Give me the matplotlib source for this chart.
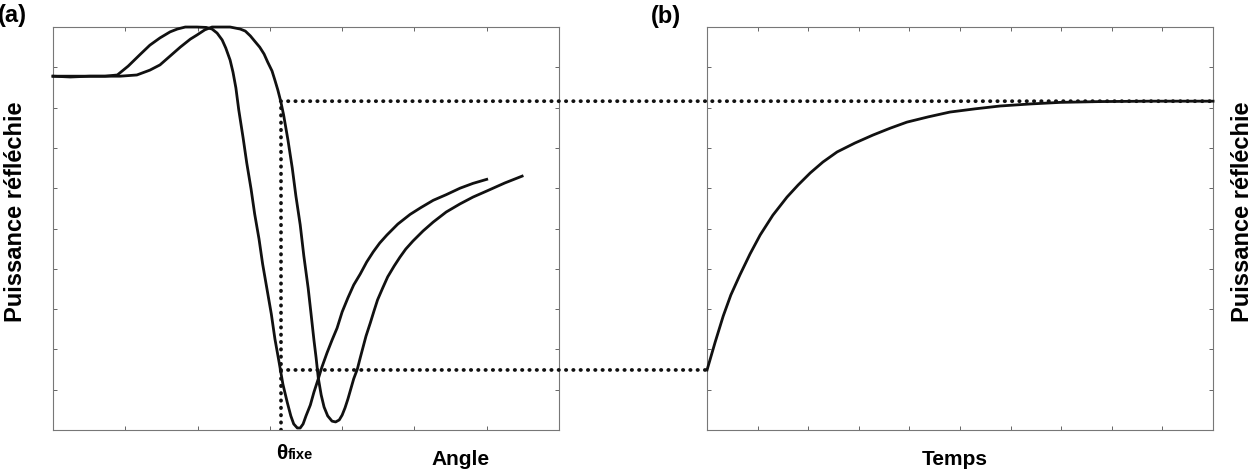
import matplotlib
matplotlib.use('Agg')
import matplotlib.pyplot as plt
from matplotlib.patches import ConnectionPatch

plt.rcParams['font.family'] = ['Liberation Sans', 'DejaVu Sans']
plt.rcParams['font.weight'] = 'bold'

# (a) reflectivity vs angle, before / after the shift
angle_1 = [0, 2.4, 5.1, 7.2, 8.9, 10.4, 12.0, 13.4, 14.8, 16.2, 17.2, 18.3, 19.9, 21.2,
           22.0, 22.7, 23.4, 23.9, 24.5, 24.9, 25.3, 25.7, 26.3, 26.8, 27.4, 27.9, 28.5,
           29.0, 29.6, 30.2, 30.7, 31.3, 31.8, 32.4, 32.9, 33.3, 33.8, 34.2, 34.6, 35.0,
           35.6, 36.1, 36.7, 37.2, 37.9, 38.6, 39.3, 40.0, 40.8, 41.6, 42.5, 43.4, 44.3,
           45.2, 46.2, 47.7, 49.4, 50.9, 52.6, 54.4, 56.3, 58.1, 60.0]
refl_1 = [87.8, 87.6, 87.8, 87.8, 88.1, 90.3, 93.1, 95.5, 97.3, 98.8, 99.5, 100, 100, 99.9,
          99.5, 98.5, 96.8, 94.8, 91.8, 88.8, 84.9, 79.4, 72.5, 66.3, 59.8, 53.6, 47.4,
          41.2, 35.0, 28.8, 22.6, 16.6, 11.4, 6.9, 3.5, 1.5, 0.5, 0.5, 1.5, 3.5,
          6.2, 9.4, 12.7, 15.6, 19.1, 22.3, 25.3, 29.3, 32.8, 36.0, 38.7, 41.7, 44.2,
          46.4, 48.4, 51.1, 53.5, 55.2, 57.0, 58.4, 60.0, 61.2, 62.2]

angle_2 = [0, 5.1, 9.3, 11.6, 13.4, 14.8, 16.2, 17.6, 19.0, 19.9, 21.0, 22.0, 24.5, 25.9,
           26.6, 27.3, 27.9, 28.6, 29.2, 29.7, 30.3, 30.7, 31.1, 31.5, 31.9, 32.5, 33.1,
           33.6, 34.2, 34.7, 35.3, 35.7, 36.1, 36.4, 36.7, 37.1, 37.5, 38.0, 38.6, 39.1,
           39.6, 40.0, 40.4, 40.8, 41.2, 41.6, 42.1, 42.5, 42.9, 43.3, 43.9, 44.4, 44.9,
           45.6, 46.3, 47.2, 48.0, 48.8, 49.8, 51.2, 52.6, 54.4, 56.3, 58.1, 60.0, 62.5, 64.9]
refl_2 = [87.8, 87.8, 87.8, 88.1, 89.3, 90.6, 92.8, 95.0, 97.0, 98.0, 99.3, 100, 100, 99.5,
          99.0, 97.8, 96.5, 95.0, 93.3, 91.3, 89.1, 86.8, 84.4, 81.6, 78.2, 72.0, 65.0,
          58.1, 50.9, 43.2, 35.2, 28.8, 22.3, 17.9, 12.9, 8.7, 5.7, 3.5, 2.2, 2.0,
          2.5, 3.7, 5.5, 7.7, 10.2, 12.7, 15.1, 17.9, 20.6, 23.3, 26.6, 29.5, 32.3,
          35.2, 38.0, 40.7, 42.9, 44.9, 46.9, 49.4, 51.6, 54.1, 56.1, 57.8, 59.3, 61.3, 63.0]

# (b) reflectivity vs time at fixed angle
time_b = [0, 1.6, 3.2, 4.7, 6.5, 8.5, 10.5, 13.0, 15.8, 18.0, 20.4, 22.9, 25.7, 29.2,
          32.8, 36.2, 39.5, 43.7, 48.0, 53.0, 57.9, 63.8, 69.8, 77.7, 87.5, 100]
refl_b = [14.9, 21.8, 28.3, 33.5, 38.5, 43.7, 48.4, 53.3, 57.8, 60.8, 63.8, 66.5, 69.0, 71.2,
          73.2, 74.9, 76.4, 77.7, 78.9, 79.7, 80.4, 80.9, 81.3, 81.5, 81.6, 81.6]

theta_fixe = 31.5
r_low = 14.9
r_high = 81.6

fig = plt.figure(figsize=(12.59, 4.70), dpi=100)
ax_a = fig.add_axes([0.0421, 0.0851, 0.4019, 0.8574])
ax_b = fig.add_axes([0.5616, 0.0851, 0.4019, 0.8574])

ink = '#111111'
curve = dict(color=ink, lw=2.0, clip_on=False, zorder=3, solid_joinstyle='round')
dots = dict(color=ink, lw=2.7, linestyle=(0, (0.1, 1.85)))

for ax, xmax in [(ax_a, 70), (ax_b, 100)]:
    ax.set_xlim(0, xmax)
    ax.set_ylim(0, 100)
    ax.set_xticks(range(0, xmax + 1, 10))
    ax.set_yticks(range(0, 101, 10))
    ax.tick_params(direction='in', length=3, width=0.7, color='#666666',
                   top=True, right=True, labelbottom=False, labelleft=False)
    for s in ax.spines.values():
        s.set_color('#777777')
        s.set_linewidth(0.8)

ax_a.plot(angle_1, refl_1, **curve)
ax_a.plot(angle_2, refl_2, **curve)
ax_a.plot([theta_fixe, theta_fixe], [0, r_high], dash_capstyle='round', **dots)

ax_b.plot(time_b, refl_b, **curve)

# dotted guides running from (a) across to (b)
for y, xb in [(r_high, 100), (r_low, 0)]:
    con = ConnectionPatch(xyA=(theta_fixe, y), coordsA=ax_a.transData,
                          xyB=(xb, y), coordsB=ax_b.transData,
                          capstyle='round', **dots)
    fig.add_artist(con)

fig.text(0.0095, 0.968, '(a)', fontsize=17, ha='center', va='center')
fig.text(0.529, 0.964, '(b)', fontsize=17, ha='center', va='center')

fig.text(0.012, 0.55, 'Puissance réfléchie', fontsize=17, rotation=90,
         ha='center', va='center')
fig.text(0.987, 0.55, 'Puissance réfléchie', fontsize=17, rotation=90,
         ha='center', va='center')

fig.text(0.2285, 0.023, 'θ', fontsize=15, ha='right', va='baseline')
fig.text(0.2285, 0.023, 'fixe', fontsize=10.5, ha='left', va='baseline')
fig.text(0.366, 0.0106, 'Angle', fontsize=15, ha='center', va='baseline')
fig.text(0.7585, 0.0106, 'Temps', fontsize=15, ha='center', va='baseline')

fig.savefig('out.png', dpi=100)
